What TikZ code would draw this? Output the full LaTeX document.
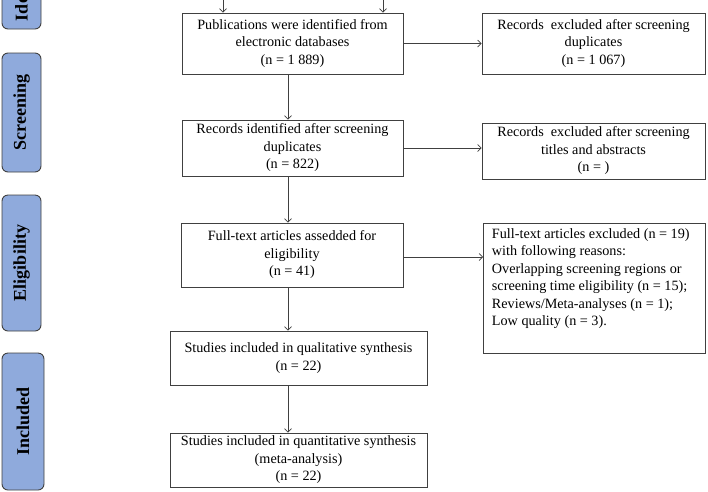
\documentclass[tikz,border=0pt]{standalone}
\usepackage{fontspec}
\setmainfont{Liberation Serif}
\usetikzlibrary{arrows.meta,positioning}
\definecolor{stageblue}{HTML}{8FAADC}
\definecolor{linegray}{HTML}{404040}
\tikzset{
  >={Straight Barb[length=3.5pt,width=7pt]}
}

\begin{document}
\begin{tikzpicture}[
        x=1pt,y=-1pt,
        box/.style={rectangle,draw=linegray,line width=0.9pt,align=center,inner sep=2pt,
          font=\fontsize{14.2}{17.5}\selectfont},
        stage/.style={rectangle,rounded corners=6pt,draw=linegray,fill=stageblue,line width=0.9pt,
          rotate=90,inner sep=0pt,font=\bfseries\fontsize{18}{22}\selectfont},
        link/.style={->,draw=linegray,line width=0.7pt}
      ]
      \useasboundingbox (0,0) rectangle (708,491);
      \clip (0,0) rectangle (708,491);
      % stages
      \node (IDE) at (21.5,-31) [stage,minimum width=120,minimum height=39] {Identification};
      \node (SCR) at (21.5,112.5) [stage,minimum width=119,minimum height=39] {Screening};
      \node (ELI) at (21.5,263) [stage,minimum width=136,minimum height=39] {Eligibility};
      \node (INC) at (23,421.5) [stage,minimum width=137,minimum height=42] {Included};
      % main column
      \node (PUB) at (292.5,43.5) [box,minimum width=221,minimum height=61] {Publications were identified from\\electronic databases\\(n = 1 889)};
      \node (REC) at (292.5,148) [box,minimum width=221,minimum height=56] {Records identified after screening\\duplicates\\(n = 822)};
      \node (FTA) at (292,255) [box,minimum width=222,minimum height=64] {Full-text articles assedded for\\eligibility\\(n = 41)};
      \node (QUAL) at (298.5,358) [box,minimum width=257,minimum height=54] {Studies included in qualitative synthesis\\(n = 22)};
      \node (QUAN) at (298.5,460) [box,minimum width=257,minimum height=54] {Studies included in quantitative synthesis\\(meta-analysis)\\(n = 22)};
      % excluded
      \node (EXD) at (593.5,43.5) [box,minimum width=223,minimum height=61] {Records\ \ excluded after screening\\duplicates\\(n = 1 067)};
      \node (EXT) at (593.5,151) [box,minimum width=223,minimum height=56] {Records\ \ excluded after screening\\titles and abstracts\\(n = )};
      \node (EXF) at (483,223) [box,anchor=north west,minimum width=222,minimum height=130,inner xsep=8pt,inner ysep=4pt]
        {\parbox[c][120pt][t]{205pt}{\raggedright Full-text articles excluded (n = 19)\\with following reasons:\\Overlapping screening regions or\\screening time eligibility (n = 15);\\Reviews/Meta-analyses (n = 1);\\Low quality (n = 3).}};
      % arrows
      \coordinate (INA) at (223,-20);
      \coordinate (INB) at (383,-20);
      \coordinate (COL) at (288,0);
      \draw[link] (INA) -- (INA |- PUB.north);
      \draw[link] (INB) -- (INB |- PUB.north);
      \draw[link] (PUB.south -| COL) -- (REC.north -| COL);
      \draw[link] (REC.south -| COL) -- (FTA.north -| COL);
      \draw[link] (FTA.south -| COL) -- (QUAL.north -| COL);
      \draw[link] (QUAL.south -| COL) -- (QUAN.north -| COL);
      \draw[link] (PUB.east) -- (EXD.west);
      \draw[link] (REC.east) -- (REC.east -| EXT.west);
      \draw[link] ([yshift=-2pt]FTA.east) -- ([yshift=-2pt]FTA.east -| EXF.west);
    \end{tikzpicture}
\end{document}
